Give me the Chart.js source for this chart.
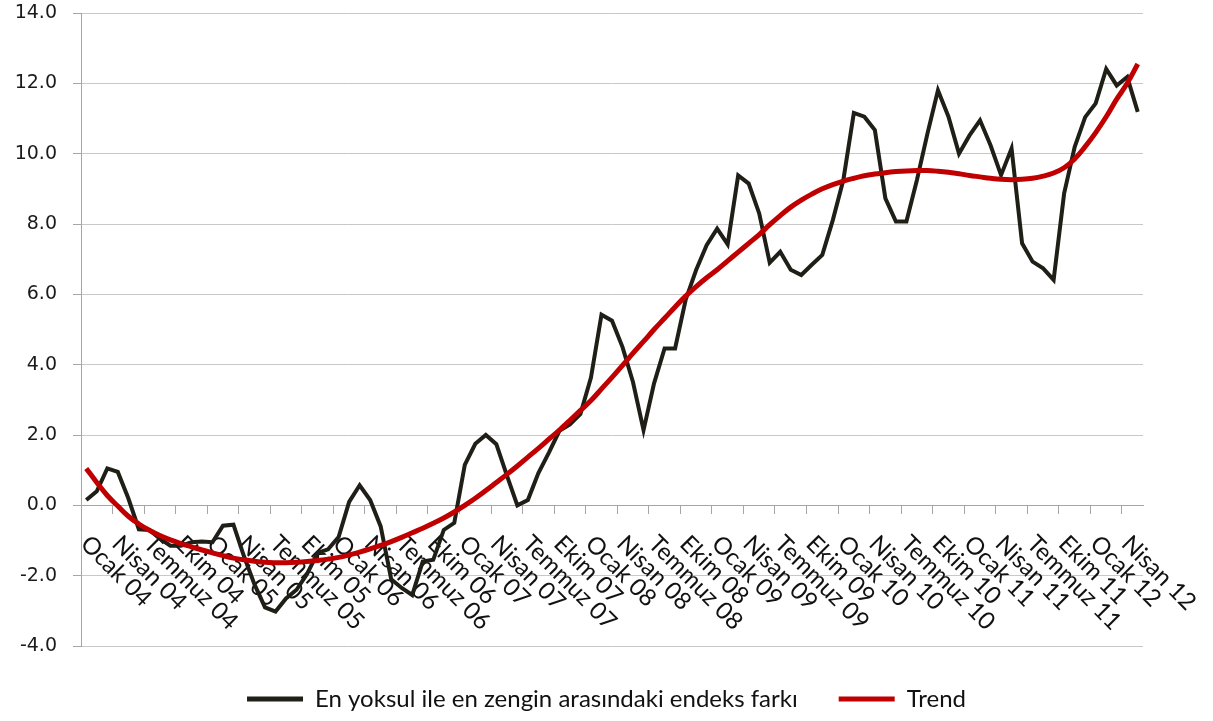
<!DOCTYPE html>
<html lang="tr">
<head>
<meta charset="utf-8">
<title>Endeks farkı</title>
<script src="https://cdn.jsdelivr.net/npm/chart.js@4/dist/chart.umd.min.js"></script>
<style>
  html, body { margin: 0; padding: 0; background: #ffffff; }
  #grafica { display: block; }
</style>
</head>
<body>
<canvas id="grafica" width="1213" height="721"></canvas>
<script>
//Nombres de los meses (etiquetas del eje X) y años
var nombresMeses = ["Ocak", "Şubat", "Mart", "Nisan", "Mayıs", "Haziran", "Temmuz", "Ağustos", "Eylül", "Ekim", "Kasım", "Aralık"];
var anios = ["04", "05", "06", "07", "08", "09", "10", "11", "12"];

//Valores mensuales, Ocak 04 - Mayıs 12
var endeksFarki = [
  0.15, 0.4, 1.05, 0.95, 0.2, -0.68, -0.7, -0.95, -1.15, -1.15, -1.05, -1.03,
  -1.05, -0.58, -0.55, -1.45, -2.25, -2.9, -3.02, -2.65, -2.4, -1.95, -1.35, -1.25,
  -0.9, 0.1, 0.57, 0.15, -0.6, -2.1, -2.35, -2.55, -1.6, -1.55, -0.7, -0.5,
  1.15, 1.75, 2.0, 1.74, 0.85, 0.0, 0.15, 0.92, 1.5, 2.12, 2.3, 2.6,
  3.63, 5.42, 5.25, 4.5, 3.5, 2.14, 3.47, 4.46, 4.46, 5.84, 6.69, 7.4,
  7.87, 7.42, 9.38, 9.15, 8.3, 6.9, 7.21, 6.7, 6.55, 6.84, 7.12, 8.11,
  9.25, 11.16, 11.05, 10.67, 8.73, 8.07, 8.07, 9.25, 10.57, 11.8, 11.05, 10.0,
  10.52, 10.95, 10.24, 9.39, 10.15, 7.45, 6.93, 6.74, 6.41, 8.87, 10.19, 11.04,
  11.43, 12.41, 11.94, 12.18, 11.19
];

//Linea de tendencia, tambien leida punto por punto
var tendencia = [
  1.05, 0.65, 0.28, -0.02, -0.31, -0.53, -0.71, -0.86, -0.98, -1.09, -1.18, -1.27,
  -1.35, -1.43, -1.5, -1.55, -1.59, -1.62, -1.63, -1.63, -1.62, -1.6, -1.57, -1.53,
  -1.48, -1.41, -1.33, -1.24, -1.14, -1.03, -0.91, -0.78, -0.65, -0.51, -0.36, -0.19,
  0.0, 0.2, 0.42, 0.65, 0.88, 1.12, 1.37, 1.62, 1.88, 2.14, 2.42, 2.7,
  2.98, 3.31, 3.64, 3.98, 4.33, 4.66, 5.0, 5.32, 5.64, 5.95, 6.22, 6.47,
  6.7, 6.95, 7.2, 7.45, 7.7, 7.98, 8.24, 8.48, 8.68, 8.85, 9.0, 9.12,
  9.22, 9.3, 9.37, 9.42, 9.46, 9.49, 9.51, 9.52, 9.52, 9.5, 9.47, 9.43,
  9.38, 9.34, 9.3, 9.27, 9.26, 9.27, 9.3, 9.36, 9.45, 9.6, 9.85, 10.2,
  10.6, 11.05, 11.55, 12.0, 12.55
];

//Ticks del eje Y
var ticksY = [-4, -2, 0, 2, 4, 6, 8, 10, 12, 14];

var nombreSerie = "En yoksul ile en zengin arasındaki endeks farkı";
var nombreTendencia = "Trend";

//Se arma la lista de meses "Ocak 04", "Şubat 04", ...
var meses = [];
for (let a of anios) {
  for (let m of nombresMeses) {
    if (meses.length < endeksFarki.length) {
      meses.push(m + " " + a);
    }
  }
}

var colorSerie = "#1f1e17";
var colorTendencia = "#c00000";
var colorEje = "#a6a6a6";
var colorGrid = "#c8c8c8";

//Etiquetas del eje X rotadas hacia abajo (cada 3 meses)
var etiquetasX = {
  id: "etiquetasX",
  beforeDatasetsDraw(chart) {
    const ctx = chart.ctx;
    const escalaX = chart.scales.x;
    const y0 = chart.scales.y.getPixelForValue(0);
    ctx.save();
    ctx.font = "24px Lato";
    ctx.fillStyle = "#111111";
    ctx.textAlign = "left";
    ctx.textBaseline = "alphabetic";
    for (let i = 0; i < meses.length; i++) {
      if (i % 3 !== 0) continue;
      const px = escalaX.getPixelForValue(i);
      ctx.save();
      ctx.translate(px - 7, y0 + 40);
      ctx.rotate(Math.PI / 4);
      ctx.fillText(meses[i], 0, 0);
      ctx.restore();
    }
    ctx.restore();
  }
};

var ctx1 = document.getElementById("grafica").getContext("2d");
var miGrafica = new Chart(ctx1, {
  type: "line",
  data: {
    labels: meses,
    datasets: [{
      label: nombreSerie,
      data: endeksFarki,
      borderColor: colorSerie,
      backgroundColor: colorSerie,
      borderWidth: 4,
      pointRadius: 0,
      tension: 0,
      order: 1
    }, {
      label: nombreTendencia,
      data: tendencia,
      borderColor: colorTendencia,
      backgroundColor: colorTendencia,
      borderWidth: 5,
      pointRadius: 0,
      tension: 0.4,
      order: 0
    }]
  },
  options: {
    responsive: false,
    animation: false,
    layout: { padding: { top: 13, left: 0, right: 0, bottom: 0 } },
    plugins: {
      tooltip: { enabled: false },
      legend: {
        position: "bottom",
        labels: {
          font: { family: "Lato", size: 24 },
          color: "#111111",
          boxWidth: 56,
          boxHeight: 5,
          padding: 41,
          sort: (a, b) => a.datasetIndex - b.datasetIndex,
          generateLabels: (chart) => Chart.defaults.plugins.legend.labels.generateLabels(chart).map(l => Object.assign(l, { lineWidth: 0 }))
        }
      }
    },
    scales: {
      x: {
        type: "category",
        offset: true,
        position: { y: 0 },
        grid: {
          offset: true,
          drawOnChartArea: false,
          drawTicks: true,
          tickLength: 8,
          color: (c) => (c.index % 3 === 0 ? colorEje : "rgba(0,0,0,0)")
        },
        border: { color: colorEje, width: 1 },
        ticks: { display: false, autoSkip: false }
      },
      y: {
        min: -4,
        max: 14,
        afterFit: (s) => { s.width = 81; s.paddingTop = 0; s.paddingBottom = 0; },
        afterBuildTicks: (s) => { s.ticks = ticksY.map(v => ({ value: v })); },
        grid: { color: colorGrid, tickLength: 8, tickColor: colorEje },
        border: { color: colorEje, width: 1 },
        ticks: {
          padding: 16,
          color: "#1a1a1a",
          font: { family: "DejaVu Sans", size: 19 },
          callback: (v) => v.toFixed(1)
        }
      },
      derecha: {
        type: "linear",
        position: "right",
        afterFit: (s) => { s.width = 70; s.paddingTop = 0; s.paddingBottom = 0; },
        grid: { display: false },
        border: { display: false },
        ticks: { display: false }
      }
    }
  },
  plugins: [etiquetasX]
});
</script>
</body>
</html>
